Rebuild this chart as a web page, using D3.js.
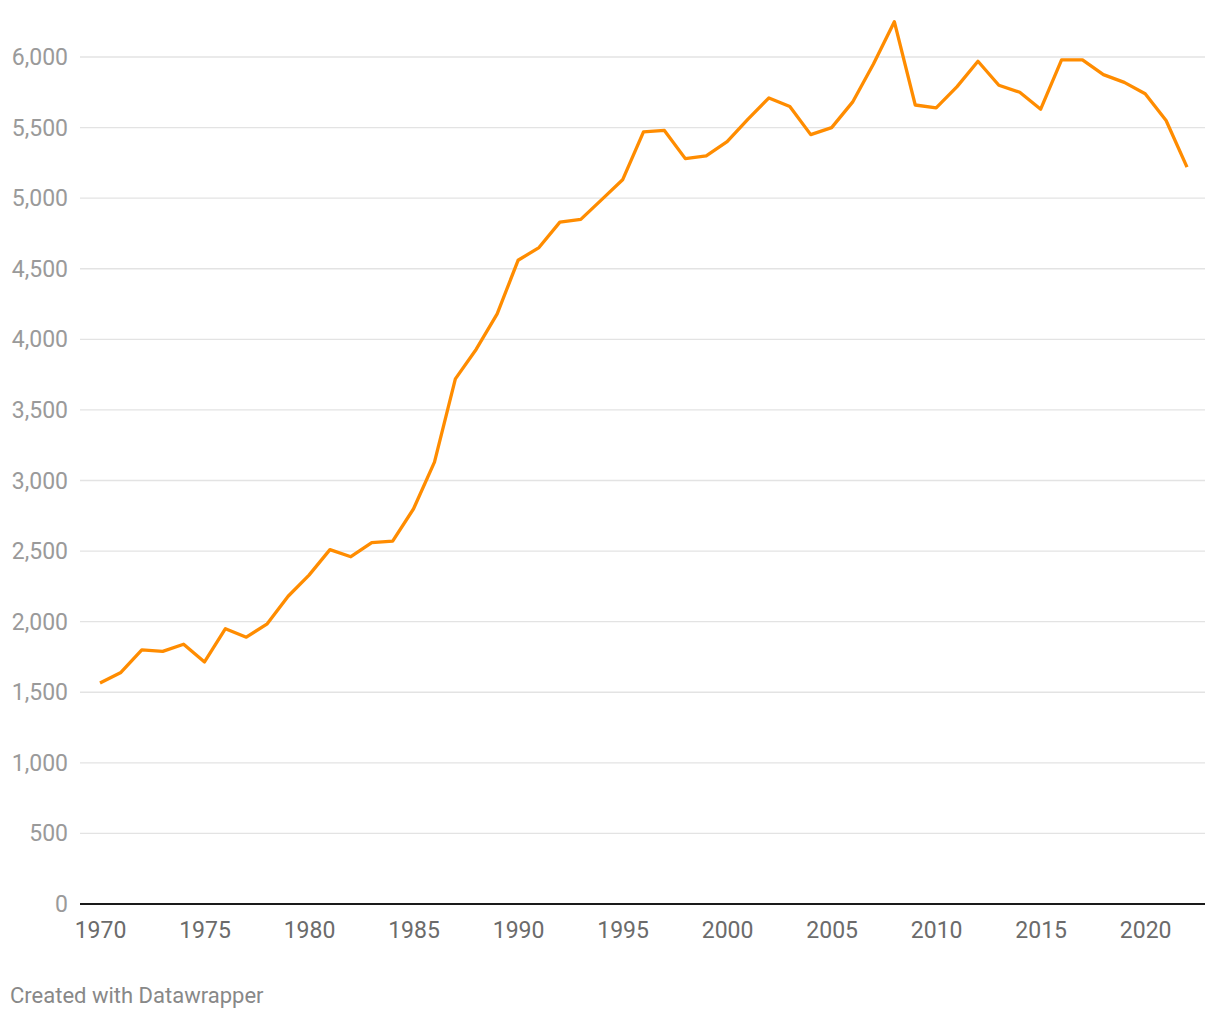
<!DOCTYPE html>
<html>
<head>
<meta charset="utf-8">
<script src="https://cdn.jsdelivr.net/npm/d3@7"></script>
<style>
  html, body { margin: 0; padding: 0; background: #fff; }
  svg { display: block; font-family: Roboto, "Noto Sans", sans-serif; }
</style>
</head>
<body>
<svg id="chart" width="1220" height="1020"></svg>
<script>
const years = d3.range(1970, 2023);
const values = [
  1565, 1640, 1800, 1790, 1840, 1715, 1950, 1890, 1985, 2180,
  2330, 2510, 2460, 2560, 2570, 2800, 3130, 3720, 3930, 4180,
  4560, 4650, 4830, 4850, 4990, 5130, 5470, 5480, 5280, 5300,
  5400, 5560, 5710, 5650, 5450, 5500, 5680, 5950, 6250, 5660,
  5640, 5790, 5970, 5800, 5750, 5630, 5980, 5980, 5875, 5820,
  5740, 5550, 5220
];
const yTicks = [0, 500, 1000, 1500, 2000, 2500, 3000, 3500, 4000, 4500, 5000, 5500, 6000];
const xTicks = [1970, 1975, 1980, 1985, 1990, 1995, 2000, 2005, 2010, 2015, 2020];
const footer = "Created with Datawrapper";

const data = years.map((y, i) => ({ year: y, value: values[i] }));

const svg = d3.select("#chart");
const gridLeft = 80, gridRight = 1205;

const x = d3.scaleLinear().domain([1970, 2022]).range([100, 1187]);
const y = d3.scaleLinear().domain([0, 6000]).range([904, 57]);

// gridlines
svg.append("g").selectAll("line")
  .data(yTicks.filter(d => d !== 0))
  .join("line")
  .attr("x1", gridLeft).attr("x2", gridRight)
  .attr("y1", d => y(d)).attr("y2", d => y(d))
  .attr("stroke", "#e3e3e3").attr("stroke-width", 1.3);

// y labels
svg.append("g").selectAll("text")
  .data(yTicks)
  .join("text")
  .attr("x", 68)
  .attr("y", d => y(d))
  .attr("dy", "0.35em")
  .attr("text-anchor", "end")
  .attr("fill", "#9a9a9a")
  .attr("font-size", 23)
  .text(d => d3.format(",")(d));

// x axis
const xAxis = d3.axisBottom(x).tickValues(xTicks).tickFormat(d3.format("d")).tickSize(0).tickPadding(0);
const gx = svg.append("g").attr("transform", `translate(0,${y(0)})`).call(xAxis);
gx.select(".domain").remove();
gx.selectAll("text")
  .attr("dy", null)
  .attr("y", 34)
  .attr("fill", "#6b6b6b").attr("font-size", 23)
  .attr("font-family", "Roboto, 'Noto Sans', sans-serif");

// baseline
svg.append("line")
  .attr("x1", gridLeft).attr("x2", gridRight)
  .attr("y1", y(0)).attr("y2", y(0))
  .attr("stroke", "#1a1a1a").attr("stroke-width", 2);

// line
const line = d3.line().x(d => x(d.year)).y(d => y(d.value));
svg.append("path")
  .datum(data)
  .attr("d", line)
  .attr("fill", "none")
  .attr("stroke", "#ff8c00")
  .attr("stroke-width", 3.3)
  .attr("stroke-linejoin", "round");

// footer
svg.append("text")
  .attr("x", 10).attr("y", 1003)
  .attr("fill", "#888")
  .attr("font-size", 22)
  .text(footer);
</script>
</body>
</html>
